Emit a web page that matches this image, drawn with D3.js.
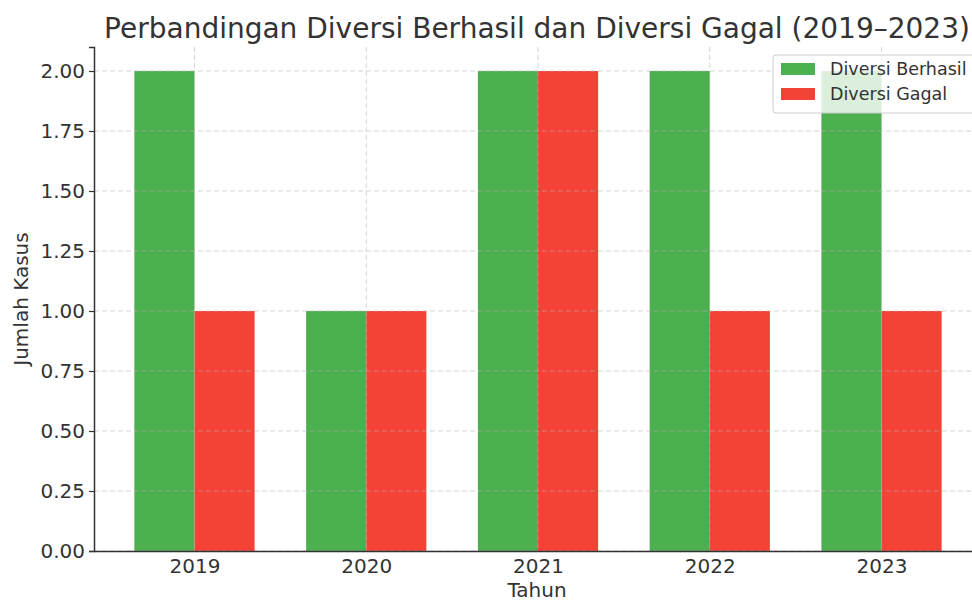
<!DOCTYPE html>
<html><head><meta charset="utf-8">
<script src="https://cdn.jsdelivr.net/npm/d3@7"></script>
<style>body{margin:0;background:#fff}svg{display:block;font-family:"DejaVu Sans",sans-serif}</style>
</head><body>
<svg id="c" width="972" height="603"></svg>
<script>
const years = ["2019","2020","2021","2022","2023"];
const berhasil = [2,1,2,2,2];
const gagal = [1,1,2,1,1];
const seriesNames = ["Diversi Berhasil","Diversi Gagal"];
const seriesColors = ["#4caf50","#f44336"];
const yTicks = [0,0.25,0.5,0.75,1,1.25,1.5,1.75,2];

const svg = d3.select("#c");
const m = {left:94, top:47, bottom:551};
const barW = 0.35;
const x = d3.scaleLinear().domain([-0.585, 4.585]).range([94, 982]);
const y = d3.scaleLinear().domain([0, 2.1]).range([m.bottom, m.top]);
const txt = "#333";

// bars
const g = svg.append("g");
[berhasil, gagal].forEach((vals, si) => {
  g.selectAll(null).data(vals).enter().append("rect")
    .attr("x", (d,i) => x(i + (si===0 ? -barW : 0)))
    .attr("width", x(barW) - x(0))
    .attr("y", d => y(d))
    .attr("height", d => y(0) - y(d))
    .attr("fill", seriesColors[si]);
});

// grid on top
const grid = svg.append("g").attr("stroke","#b0b0b0").attr("stroke-opacity",0.7).attr("stroke-dasharray","5,3").attr("stroke-width",0.8);
grid.selectAll(null).data(yTicks).enter().append("line")
  .attr("x1",94).attr("x2",972).attr("y1",d=>y(d)).attr("y2",d=>y(d));
grid.selectAll(null).data(years).enter().append("line")
  .attr("x1",(d,i)=>x(i)).attr("x2",(d,i)=>x(i)).attr("y1",m.top).attr("y2",m.bottom);

// axes
const yAxis = d3.axisLeft(y).tickValues(yTicks).tickFormat(d3.format(".2f")).tickSize(5).tickPadding(4);
const ya = svg.append("g").attr("transform","translate(94,0)").call(yAxis);
ya.select(".domain").attr("stroke",txt).attr("stroke-width",1.5);
ya.selectAll(".tick line").attr("stroke",txt).attr("stroke-width",1.2);
ya.selectAll("text").attr("fill",txt).style("font-size","20px").style("font-family","DejaVu Sans");

const xAxis = d3.axisBottom(x).tickValues(d3.range(years.length)).tickFormat(i=>years[i]).tickSize(0).tickPadding(8);
const xa = svg.append("g").attr("transform",`translate(0,${m.bottom})`).call(xAxis);
xa.select(".domain").attr("stroke",txt).attr("stroke-width",1.5);
xa.selectAll("text").attr("fill",txt).style("font-size","20px").style("font-family","DejaVu Sans");

// labels
svg.append("text").attr("x",537).attr("y",38).attr("text-anchor","middle").attr("fill",txt)
  .style("font-size","28px").text("Perbandingan Diversi Berhasil dan Diversi Gagal (2019–2023)");
svg.append("text").attr("x",537).attr("y",597).attr("text-anchor","middle").attr("fill",txt)
  .style("font-size","20px").text("Tahun");
svg.append("text").attr("transform","translate(28,299) rotate(-90)").attr("text-anchor","middle").attr("fill",txt)
  .style("font-size","20px").text("Jumlah Kasus");

// legend
const lg = svg.append("g");
lg.append("rect").attr("x",773).attr("y",55).attr("width",215).attr("height",58).attr("rx",3)
  .attr("fill","#fff").attr("fill-opacity",0.8).attr("stroke","#ccc");
seriesNames.forEach((n,i)=>{
  lg.append("rect").attr("x",781).attr("y",63+i*25).attr("width",34).attr("height",12).attr("fill",seriesColors[i]);
  lg.append("text").attr("x",830).attr("y",75+i*25).attr("fill",txt).style("font-size","17.5px").text(n);
});
</script>
</body></html>
